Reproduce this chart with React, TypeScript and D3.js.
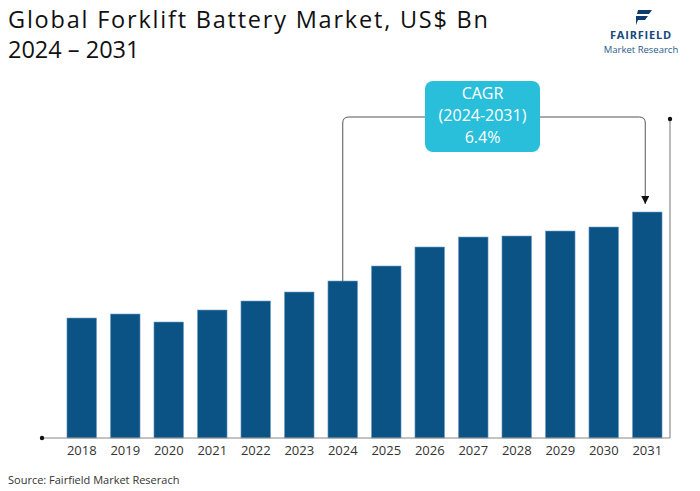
import React from 'react';
import * as d3 from 'd3';

// values (no y axis in the source, units are relative)
const years = ['2018', '2019', '2020', '2021', '2022', '2023', '2024', '2025', '2026', '2027', '2028', '2029', '2030', '2031'];
const marketValue = [6.0, 6.2, 5.8, 6.4, 6.85, 7.3, 7.85, 8.6, 9.55, 10.05, 10.1, 10.35, 10.55, 11.3];
const cagrLines = ['CAGR', '(2024-2031)', '6.4%'];
const cagrFrom = '2024';
const cagrTo = '2031';

const width = 700;
const height = 491;
const baseY = 438;
const font = '"Open Sans", "DejaVu Sans", sans-serif';

const App: React.FC = () => {
  const x = d3.scaleBand<string>()
    .domain(years)
    .range([60, 669])
    .paddingInner(0.32)
    .paddingOuter(0.16);

  const y = d3.scaleLinear()
    .domain([0, 15])
    .range([baseY, baseY - 300]);

  const bw = x.bandwidth();
  const fromX = (x(cagrFrom) as number) + bw / 2;
  const toX = (x(cagrTo) as number) + bw / 2 - 2;
  const fromTop = y(marketValue[years.indexOf(cagrFrom)]);
  const toTop = y(marketValue[years.indexOf(cagrTo)]);
  const lineY = 117;
  const r = 6;

  const bracket = d3.path();
  bracket.moveTo(fromX, fromTop);
  bracket.lineTo(fromX, lineY + r);
  bracket.quadraticCurveTo(fromX, lineY, fromX + r, lineY);
  bracket.lineTo(toX - r, lineY);
  bracket.quadraticCurveTo(toX, lineY, toX, lineY + r);
  bracket.lineTo(toX, toTop - 8);

  return (
    <svg width={width} height={height} style={{ position: 'absolute', left: 0, top: 0, background: '#fff' }}>
      <defs>
        <marker id="arr" viewBox="0 0 10 10" refX="10" refY="5" markerWidth="9" markerHeight="8" orient="auto" markerUnits="userSpaceOnUse">
          <path d="M0,0 L10,5 L0,10 Z" fill="#111" />
        </marker>
      </defs>

      <text x={8} y={28} fontFamily={font} fontSize={23.5} fill="#111" textLength={480} lengthAdjust="spacing">Global Forklift Battery Market, US$ Bn</text>
      <text x={8} y={58} fontFamily={font} fontSize={23.5} fill="#111">2024 – 2031</text>

      {/* logo */}
      <g>
        <path d="M638,10 L652,10 L649,14 L637,14 Z" fill="#0b3d6e" />
        <path d="M636,16 L648,16 L645,20 L638,20 L636,25 Z" fill="#0b3d6e" />
        <text x={641} y={39} textAnchor="middle" fontFamily={font} fontWeight={700} fontSize={11} fill="#174a7c" letterSpacing={0.8}>FAIRFIELD</text>
        <text x={641} y={53} textAnchor="middle" fontFamily={font} fontSize={9.5} fill="#2a5a8c">Market Research</text>
      </g>

      {years.map((yr, i) => (
        <rect key={yr} x={x(yr)} y={y(marketValue[i])} width={bw} height={baseY - y(marketValue[i])}
          fill="#0b5285" stroke="#6fa3c9" strokeWidth={0.6} />
      ))}

      <line x1={42} x2={670} y1={baseY} y2={baseY} stroke="#888" strokeWidth={1.2} />
      <circle cx={42} cy={baseY} r={2.2} fill="#111" />
      <line x1={670} x2={670} y1={119} y2={baseY} stroke="#777" strokeWidth={1} />
      <circle cx={670} cy={119} r={2.2} fill="#111" />

      {years.map(yr => (
        <text key={yr} x={(x(yr) as number) + bw / 2} y={455} textAnchor="middle" fontFamily={font} fontSize={13} fill="#333">{yr}</text>
      ))}

      <path d={bracket.toString()} fill="none" stroke="#555" strokeWidth={1} markerEnd="url(#arr)" />

      <rect x={425} y={81} width={115} height={71} rx={8} fill="#29bfdb" />
      {cagrLines.map((t, i) => (
        <text key={t} x={482.5} y={99 + i * 22} textAnchor="middle" fontFamily={font} fontSize={16} fill="#fff">{t}</text>
      ))}

      <text x={8} y={484} fontFamily={font} fontSize={11} fill="#333">Source: Fairfield Market Reserach</text>
    </svg>
  );
};

export default App;
